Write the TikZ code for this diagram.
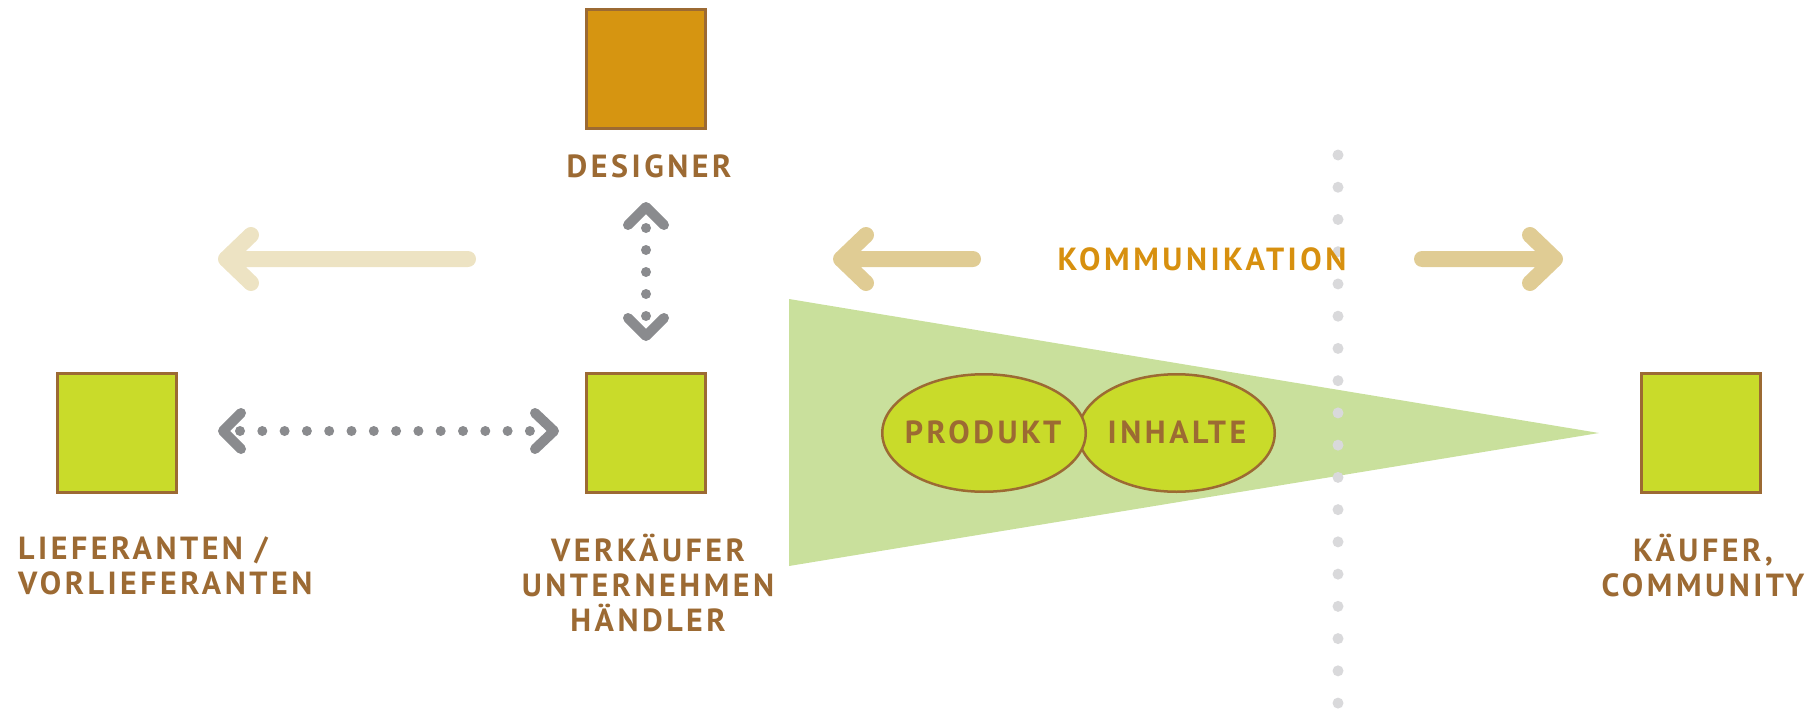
\documentclass[tikz,border=0pt]{standalone}
\usepackage{fontspec}
\setmainfont{PT Sans}
\newfontfamily\lblfont[LetterSpace=11]{PT Sans}
\usetikzlibrary{shapes.geometric}

\definecolor{umber}{HTML}{9C6A33}
\definecolor{amber}{HTML}{D7900F}
\definecolor{lime}{HTML}{C9DB2A}
\definecolor{ochre}{HTML}{D69511}
\definecolor{wedge}{HTML}{C9E09C}
\definecolor{slate}{HTML}{8A8B8E}
\definecolor{mist}{HTML}{D9D9DB}
\definecolor{sand}{HTML}{EDE3C3}
\definecolor{tan}{HTML}{E0CC94}

\begin{document}
\begin{tikzpicture}[x=1pt, y=-1pt,
  box/.style={draw=umber, line width=2.7pt, minimum size=119.5pt, inner sep=0pt},
  pill/.style={ellipse, draw=umber, line width=2.5pt, fill=lime, minimum height=117.5pt, inner sep=0pt},
  lbl/.style={font=\lblfont\bfseries\fontsize{32}{35}\selectfont, text=umber, inner sep=0pt},
  flow/.style={line width=16pt, line cap=round, line join=round},
  chev/.style={draw=slate, line width=10pt, line cap=round, line join=round},
  dotrow/.style={draw=slate, line width=10pt, line cap=round, dash pattern=on 0pt off #1},
  fence/.style={draw=mist, line width=11pt, line cap=round, dash pattern=on 0pt off 32.24pt}
]
\useasboundingbox (0,0) rectangle (1814,709);

% funnel towards the buyers
\fill[wedge] (789,299) -- (1599,433) -- (789,566) -- cycle;

% boundary between company and market
\coordinate (fenceTop) at (1338,155);
\coordinate (fenceBot) at (1338,704);
\draw[fence] (fenceTop) -- (fenceBot);

% actors
\node[box, fill=ochre] (designer) at (646,69) {};
\node[box, fill=lime] (lief) at (117,433) {};
\node[box, fill=lime] (verk) at (646,433) {};
\node[box, fill=lime] (kaeufer) at (1701,433) {};

% product and content
\node[pill, minimum width=196.5pt] (inhalte) at (1176.5,433) {};
\node[pill, minimum width=203.5pt] (produkt) at (984,433) {};
\node[lbl, anchor=base] (produktTxt) at (983,443) {PRODUKT};
\node[lbl, anchor=base] (inhalteTxt) at (1177,443) {INHALTE};

% labels (base = baseline of the last line)
\node[lbl, anchor=base] (designerTxt) at (649,177) {DESIGNER};
\node[lbl, anchor=base west, align=left] (liefTxt) at (18,594) {LIEFERANTEN /\\VORLIEFERANTEN};
\node[lbl, anchor=base, align=center] (verkTxt) at (648,631) {VERKÄUFER\\UNTERNEHMEN\\HÄNDLER};
\node[lbl, anchor=base, align=center] (kaeuferTxt) at (1703,596) {KÄUFER,\\COMMUNITY};
\node[lbl, anchor=base, text=amber] (kommTxt) at (1202,270) {KOMMUNIKATION};

% communication flows
\coordinate (sandTail) at (468,259);
\coordinate (sandTip) at (226,259);
\draw[flow, sand] (sandTail) -- (sandTip) ++(25,-24) -- (sandTip) -- ++(25,24);
\coordinate (kommLTail) at (973,259);
\coordinate (kommLTip) at (841,259);
\draw[flow, tan] (kommLTail) -- (kommLTip) ++(25,-24) -- (kommLTip) -- ++(25,24);
\coordinate (kommRTail) at (1422,259);
\coordinate (kommRTip) at (1555,259);
\draw[flow, tan] (kommRTail) -- (kommRTip) ++(-25,-24) -- (kommRTip) -- ++(-25,24);

% supplier <-> seller
\coordinate (hL) at (223,431);
\coordinate (hR) at (554,431);
\draw[dotrow=22.3pt] (240,431) -- (531,431);
\draw[chev] (hL) ++(18,-18) -- (hL) -- ++(18,18);
\draw[chev] (hR) ++(-19,-18) -- (hR) -- ++(-19,18);

% designer <-> seller
\coordinate (vT) at (646,207);
\coordinate (vB) at (646,336);
\draw[dotrow=22pt] (646,228) -- (646,316.5);
\draw[chev] (vT) ++(-18,18) -- (vT) -- ++(18,18);
\draw[chev] (vB) ++(-18,-18) -- (vB) -- ++(18,-18);
\end{tikzpicture}
\end{document}
